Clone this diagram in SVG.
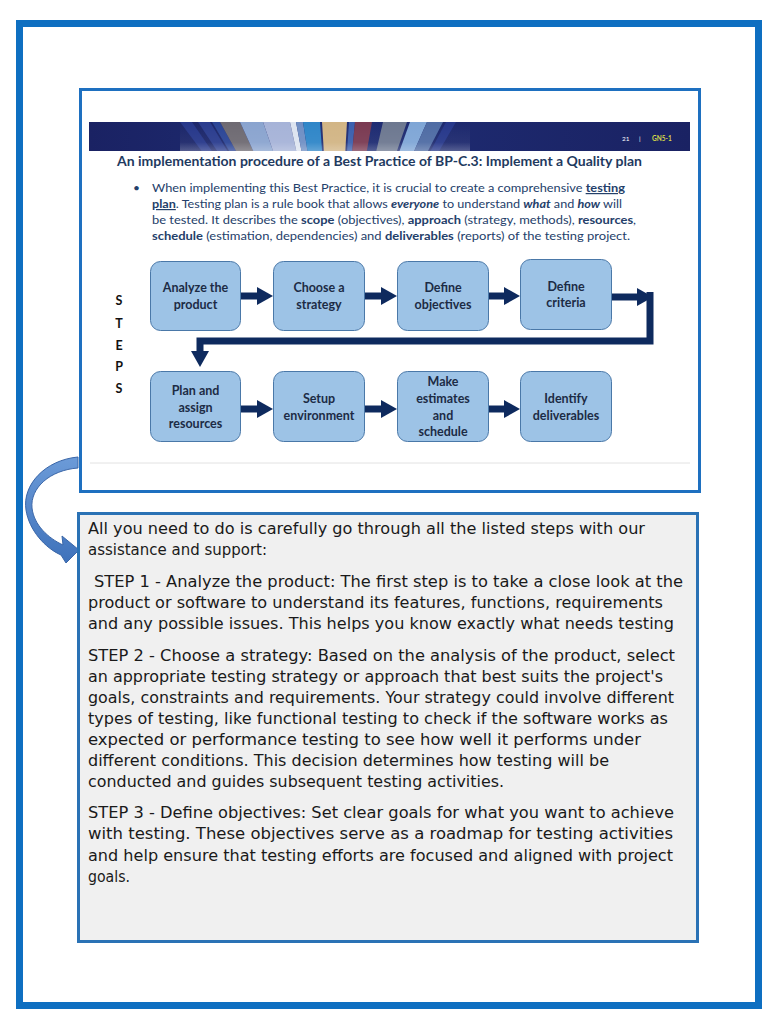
<svg xmlns="http://www.w3.org/2000/svg" width="780" height="1030" viewBox="0 0 780 1030">
<style>
.frame{fill:none;stroke:#0e6fc1;stroke-width:7}
.box{fill:#9dc3e6;stroke:#4a78a8;stroke-width:1}
.lbl{font-family:Lato,"Liberation Sans",sans-serif;font-weight:bold;font-size:12.5px;fill:#1c2b45;text-anchor:middle}
.steps{font-family:Lato,"Liberation Sans",sans-serif;font-weight:bold;font-size:12.5px;fill:#111;text-anchor:middle}
.title{font-family:Lato,"Liberation Sans",sans-serif;font-weight:bold;font-size:13.5px;fill:#1f3a5f}
.bul{font-family:Lato,"Liberation Sans",sans-serif;font-size:12px;fill:#24406a}
.b{font-weight:bold}
.bi{font-weight:bold;font-style:italic}
.bu{font-weight:bold;text-decoration:underline}
.body{font-family:"DejaVu Sans","Liberation Sans",sans-serif;font-size:15.5px;fill:#1a1a1a}
.conn{fill:none;stroke:#0e2a5e;stroke-width:7;stroke-linejoin:miter}
</style>
<defs>
<marker id="ah" markerUnits="userSpaceOnUse" markerWidth="16" markerHeight="18" viewBox="0 0 16 18" refX="1" refY="9" orient="auto">
<path d="M0,0 L16,9 L0,18 Z" fill="#0e2a5e"/>
</marker>
<linearGradient id="banner" x1="0" y1="0" x2="1" y2="0">
<stop offset="0" stop-color="#1a2263"/>
<stop offset="0.4" stop-color="#1f2d74"/>
<stop offset="1" stop-color="#1a2263"/>
</linearGradient>
<linearGradient id="rayfade" x1="0" y1="0" x2="0" y2="1">
<stop offset="0" stop-color="#fff" stop-opacity="0"/>
<stop offset="0.7" stop-color="#fff" stop-opacity="0.05"/>
<stop offset="1" stop-color="#fff" stop-opacity="0.25"/>
</linearGradient>
<linearGradient id="curv" x1="0" y1="0" x2="0" y2="1">
<stop offset="0" stop-color="#6c9bd8"/>
<stop offset="1" stop-color="#3f72bb"/>
</linearGradient>
<clipPath id="bclip"><rect x="89" y="122" width="601" height="29"/></clipPath>
</defs>

<rect x="0" y="0" width="780" height="1030" fill="#fff"/>
<rect class="frame" x="19.5" y="23.5" width="739" height="982"/>

<g id="slide">
<rect x="80.5" y="89.5" width="619" height="402" fill="#fff" stroke="#1e70c0" stroke-width="3"/>
<g id="banner" clip-path="url(#bclip)">
<rect x="89" y="122" width="601" height="29" fill="url(#banner)"/>
<polygon points="335,330 180,122 192,122" fill="#26378a"/>
<polygon points="335,330 198,122 210,122" fill="#2a3c8e"/>
<polygon points="335,330 212,122 220,122" fill="#2b4596"/>
<polygon points="335,330 220,122 240,122" fill="#6e6a72"/>
<polygon points="335,330 240,122 263,122" fill="#8aa4cf"/>
<polygon points="335,330 263,122 290,122" fill="#a6b3d8"/>
<polygon points="335,330 290,122 296,122" fill="#dde4f0"/>
<polygon points="335,330 296,122 303,122" fill="#6f8fc4"/>
<polygon points="335,330 303,122 320,122" fill="#2f86c8"/>
<polygon points="335,330 322,122 347,122" fill="#d2b585"/>
<polygon points="335,330 349,122 355,122" fill="#3b5fae"/>
<polygon points="335,330 355,122 372,122" fill="#7a3a52"/>
<polygon points="335,330 383,122 407,122" fill="#6d7890"/>
<polygon points="335,330 410,122 427,122" fill="#7fa6d6"/>
<polygon points="335,330 427,122 443,122" fill="#4f6ca4"/>
<polygon points="335,330 446,122 456,122" fill="#26378a"/>
<rect x="180" y="122" width="290" height="29" fill="url(#rayfade)"/>
</g>
<text x="622" y="141" font-family="Lato,'Liberation Sans',sans-serif" font-size="6.5" fill="#fff">21</text>
<text x="639" y="141" font-family="Lato,'Liberation Sans',sans-serif" font-size="6.5" fill="#fff">|</text>
<text x="652" y="141" font-family="Lato,'Liberation Sans',sans-serif" font-size="6.5" font-weight="bold" fill="#d8d84a">GN5-1</text>
<text class="title" x="117" y="166" textLength="525" lengthAdjust="spacingAndGlyphs">An implementation procedure of a Best Practice of BP-C.3: Implement a Quality plan</text>
<text class="bul" x="133" y="192">•</text>
<text class="bul" x="152" y="192" textLength="473" lengthAdjust="spacingAndGlyphs">When implementing this Best Practice, it is crucial to create a comprehensive <tspan class="bu">testing</tspan></text>
<text class="bul" x="152" y="208" textLength="470" lengthAdjust="spacingAndGlyphs"><tspan class="bu">plan</tspan>. Testing plan is a rule book that allows <tspan class="bi">everyone</tspan> to understand <tspan class="bi">what</tspan> and <tspan class="bi">how</tspan> will</text>
<text class="bul" x="152" y="224" textLength="484" lengthAdjust="spacingAndGlyphs">be tested. It describes the <tspan class="b">scope</tspan> (objectives), <tspan class="b">approach</tspan> (strategy, methods), <tspan class="b">resources</tspan>,</text>
<text class="bul" x="152" y="240" textLength="478" lengthAdjust="spacingAndGlyphs"><tspan class="b">schedule</tspan> (estimation, dependencies) and <tspan class="b">deliverables</tspan> (reports) of the testing project.</text>
<g id="steps-label">
<text class="steps" x="119" y="305">S</text>
<text class="steps" x="119" y="328">T</text>
<text class="steps" x="119" y="350">E</text>
<text class="steps" x="119" y="371">P</text>
<text class="steps" x="119" y="393">S</text>
</g>
<line x1="90" y1="463" x2="690" y2="463" stroke="#e2e2e2" stroke-width="1"/>
</g>

<g id="connectors">
<path class="conn" d="M240,296 H258" marker-end="url(#ah)"/>
<path class="conn" d="M364,296 H382" marker-end="url(#ah)"/>
<path class="conn" d="M488,296 H505" marker-end="url(#ah)"/>
<path class="conn" d="M611,297 H638" marker-end="url(#ah)"/>
<path class="conn" d="M650,292 V341 H200 V352" marker-end="url(#ah)"/>
<path class="conn" d="M240,409 H258" marker-end="url(#ah)"/>
<path class="conn" d="M364,409 H382" marker-end="url(#ah)"/>
<path class="conn" d="M488,409 H505" marker-end="url(#ah)"/>
<path d="M78,457 C45,460 22,485 26,510 C29,530 45,548 61,555 L66,563 L79,550 L62,536 L63,545 C48,538 34,525 32,508 C30,488 50,470 78,468 Z" fill="url(#curv)" stroke="#3a66a8" stroke-width="1"/>
</g>

<g id="n1"><rect class="box" x="150.5" y="261.5" width="90" height="69" rx="10"/><text class="lbl" x="195.5" y="292">Analyze the</text><text class="lbl" x="195.5" y="309">product</text></g>
<g id="n2"><rect class="box" x="273.5" y="261.5" width="91" height="69" rx="10"/><text class="lbl" x="319" y="292">Choose a</text><text class="lbl" x="319" y="309">strategy</text></g>
<g id="n3"><rect class="box" x="397.5" y="261.5" width="91" height="69" rx="10"/><text class="lbl" x="443" y="292">Define</text><text class="lbl" x="443" y="309">objectives</text></g>
<g id="n4"><rect class="box" x="520.5" y="259.5" width="91" height="70" rx="10"/><text class="lbl" x="566" y="291">Define</text><text class="lbl" x="566" y="307">criteria</text></g>
<g id="n5"><rect class="box" x="150.5" y="371.5" width="90" height="70" rx="10"/><text class="lbl" x="195.5" y="395">Plan and</text><text class="lbl" x="195.5" y="412">assign</text><text class="lbl" x="195.5" y="428">resources</text></g>
<g id="n6"><rect class="box" x="273.5" y="371.5" width="91" height="70" rx="10"/><text class="lbl" x="319" y="403">Setup</text><text class="lbl" x="319" y="420">environment</text></g>
<g id="n7"><rect class="box" x="397.5" y="371.5" width="91" height="70" rx="10"/><text class="lbl" x="443" y="386">Make</text><text class="lbl" x="443" y="403">estimates</text><text class="lbl" x="443" y="420">and</text><text class="lbl" x="443" y="436">schedule</text></g>
<g id="n8"><rect class="box" x="520.5" y="371.5" width="91" height="70" rx="10"/><text class="lbl" x="566" y="403">Identify</text><text class="lbl" x="566" y="420">deliverables</text></g>

<g id="textbox">
<rect x="78.5" y="513.5" width="619" height="428" fill="#f0f0f0" stroke="#2a72b5" stroke-width="3"/>
<text class="body" x="88" y="534" textLength="557" lengthAdjust="spacingAndGlyphs">All you need to do is carefully go through all the listed steps with our</text>
<text class="body" x="88" y="555" textLength="179" lengthAdjust="spacingAndGlyphs">assistance and support:</text>
<text class="body" x="94" y="587" textLength="589" lengthAdjust="spacingAndGlyphs">STEP 1 - Analyze the product: The first step is to take a close look at the</text>
<text class="body" x="88" y="608" textLength="575" lengthAdjust="spacingAndGlyphs">product or software to understand its features, functions, requirements</text>
<text class="body" x="88" y="629" textLength="586" lengthAdjust="spacingAndGlyphs">and any possible issues. This helps you know exactly what needs testing</text>
<text class="body" x="88" y="661" textLength="587" lengthAdjust="spacingAndGlyphs">STEP 2 - Choose a strategy: Based on the analysis of the product, select</text>
<text class="body" x="88" y="682" textLength="575" lengthAdjust="spacingAndGlyphs">an appropriate testing strategy or approach that best suits the project's</text>
<text class="body" x="88" y="703" textLength="586" lengthAdjust="spacingAndGlyphs">goals, constraints and requirements. Your strategy could involve different</text>
<text class="body" x="88" y="724" textLength="580" lengthAdjust="spacingAndGlyphs">types of testing, like functional testing to check if the software works as</text>
<text class="body" x="88" y="745" textLength="553" lengthAdjust="spacingAndGlyphs">expected or performance testing to see how well it performs under</text>
<text class="body" x="88" y="766" textLength="521" lengthAdjust="spacingAndGlyphs">different conditions. This decision determines how testing will be</text>
<text class="body" x="88" y="787" textLength="416" lengthAdjust="spacingAndGlyphs">conducted and guides subsequent testing activities.</text>
<text class="body" x="88" y="818" textLength="586" lengthAdjust="spacingAndGlyphs">STEP 3 - Define objectives: Set clear goals for what you want to achieve</text>
<text class="body" x="88" y="839" textLength="585" lengthAdjust="spacingAndGlyphs">with testing. These objectives serve as a roadmap for testing activities</text>
<text class="body" x="88" y="861" textLength="585" lengthAdjust="spacingAndGlyphs">and help ensure that testing efforts are focused and aligned with project</text>
<text class="body" x="88" y="882" textLength="42" lengthAdjust="spacingAndGlyphs">goals.</text>
</g>
</svg>
